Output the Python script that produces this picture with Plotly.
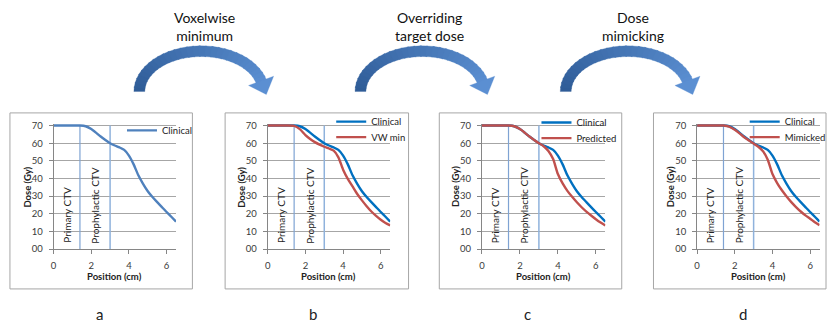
import numpy as np
import plotly.graph_objects as go

W, H = 831, 327
FONT = "Lato"

# ---------------- data ----------------
position_cm = [0, 0.5, 1.0, 1.4, 1.7, 2.0, 2.25, 2.5, 2.75, 3.0, 3.25, 3.5, 3.75,
               4.0, 4.25, 4.5, 4.75, 5.0, 5.25, 5.5, 5.75, 6.0, 6.25, 6.5]
clinical_dose = [70, 70, 70, 70, 69.6, 68, 66, 63.8, 61.8, 60, 58.7, 57.6, 56.2,
                 53, 48, 41.8, 37, 32.8, 29.5, 26.6, 23.8, 21, 18.3, 15.6]
vw_min_dose = [70, 70, 70, 69.8, 68, 64.6, 62.4, 60.6, 59.2, 58, 57, 55.8, 52,
               45, 39.8, 35.5, 31.2, 27.6, 24.3, 21.3, 18.8, 16.6, 14.8, 13.4]
predicted_dose = [70, 70, 70, 70, 69.6, 68, 66, 63.8, 61.8, 60, 58.3, 55.6, 51,
                  42.5, 37.2, 33, 29.6, 26.5, 23.7, 21.2, 19, 16.9, 15, 13.4]
mimicked_dose = [70, 70, 70, 70, 69.4, 67.6, 65.6, 63.4, 61.5, 59.8, 58, 55.4, 50.6,
                 42.5, 37.4, 33.3, 29.8, 26.6, 23.8, 21.3, 19.1, 17.2, 15.2, 13.5]

ctv_bounds = [1.4, 3.0]
ctv_labels = ["Primary CTV", "Prophylactic CTV"]
y_tick_vals = [0, 10, 20, 30, 40, 50, 60, 70]
y_tick_text = ["00", "10", "20", "30", "40", "50", "60", "70"]
x_tick_vals = [0, 2, 4, 6]
panel_letters = ["a", "b", "c", "d"]
step_titles = ["Voxelwise<br>minimum", "Overriding<br>target dose", "Dose<br>mimicking"]

# ---------------- helpers ----------------
def px(x):
    return x / W

def py(y):
    return 1 - y / H

fig = go.Figure()

# panel layout (pixels): x of 0, pixels per unit, frame left/right, legend-cover left
panels = [
    dict(x0=51, ppu=19.0, fl=7, fr=191, cov=133),
    dict(x0=267, ppu=19.0, fl=224, fr=409, cov=348),
    dict(x0=483, ppu=19.15, fl=440, fr=624, cov=548),
    dict(x0=700, ppu=19.0, fl=656, fr=830, cov=766),
]
series = [
    [("Clinical", clinical_dose, "#4f81bd")],
    [("Clinical", clinical_dose, "#0070c0"), ("VW min", vw_min_dose, "#c0504d")],
    [("Clinical", clinical_dose, "#0070c0"), ("Predicted", predicted_dose, "#c0504d")],
    [("Clinical", clinical_dose, "#0070c0"), ("Mimicked", mimicked_dose, "#c0504d")],
]
# legend entries: (text start x, row centre y) in pixels
legend_rows = [
    [(160, 130)],
    [(371, 121), (371, 137)],
    [(578, 122), (578, 138)],
    [(788, 121), (788, 137)],
]

Y0_PX = 252.0
PPY = (252.0 - 125.0) / 70.0
YMAX = 71
ydom = [py(Y0_PX), py(Y0_PX - YMAX * PPY)]

shapes = []
annotations = []
layout_extra = {}
leg_idx = 0

for i, p in enumerate(panels):
    n = i + 1
    xa = "x" if n == 1 else f"x{n}"
    ya = "y" if n == 1 else f"y{n}"
    xkey = "xaxis" if n == 1 else f"xaxis{n}"
    ykey = "yaxis" if n == 1 else f"yaxis{n}"
    xend = p["x0"] + 6.5 * p["ppu"]
    layout_extra[xkey] = dict(
        domain=[px(p["x0"]), px(xend)], range=[0, 6.5], anchor=ya,
        tickvals=x_tick_vals, ticks="outside", ticklen=4, tickcolor="#868686",
        ticklabelstandoff=4,
        showline=True, linecolor="#868686", linewidth=1, showgrid=False, zeroline=False,
        tickfont=dict(family=FONT, size=9.5, color="#3a3a3a"), fixedrange=True,
    )
    layout_extra[ykey] = dict(
        domain=ydom, range=[0, YMAX], anchor=xa,
        tickvals=y_tick_vals, ticktext=y_tick_text, ticks="outside", ticklen=4,
        ticklabelstandoff=4,
        tickcolor="#868686", showline=True, linecolor="#868686", linewidth=1,
        showgrid=True, gridcolor="#a6a6a6", gridwidth=1, zeroline=False,
        tickfont=dict(family=FONT, size=9.5, color="#3a3a3a"), fixedrange=True,
    )
    for (name, vals, col), (lx, ly) in zip(series[i], legend_rows[i]):
        leg_idx += 1
        lkey = "legend" if leg_idx == 1 else f"legend{leg_idx}"
        layout_extra[lkey] = dict(
            x=px(lx - 40), y=py(ly - 15), xanchor="left", yanchor="top",
            bgcolor="rgba(0,0,0,0)", borderwidth=0, itemwidth=30,
            font=dict(family=FONT, size=9.5, color="#222"),
        )
        fig.add_trace(go.Scatter(
            x=position_cm, y=vals, mode="lines", name=name,
            line=dict(color=col, width=2.4, shape="spline", smoothing=0.6),
            xaxis=xa, yaxis=ya, legend=lkey, showlegend=True,
        ))
    # white area behind the legend (hides gridlines, stays below the curves)
    shapes.append(dict(type="rect", xref="paper", yref="paper",
                       x0=px(p["cov"]), x1=px(xend + 1), y0=py(149), y1=py(113),
                       line=dict(width=0), fillcolor="white", layer="between"))
    # CTV boundary lines
    for b, col, w in zip(ctv_bounds, ["#7fa3d3", "#8fb2dc"], [1.2, 1.5]):
        shapes.append(dict(type="line", xref=xa, yref=ya, x0=b, x1=b, y0=0, y1=70,
                           line=dict(color=col, width=w), layer="between"))
    # CTV labels
    for lab, lxv, lyv in zip(ctv_labels, [0.7, 2.2], [19.3, 24.6]):
        annotations.append(dict(text=lab, xref=xa, yref=ya, x=lxv, y=lyv,
                                xanchor="center", yanchor="middle",
                                textangle=-90, showarrow=False,
                                font=dict(family=FONT, size=10, color="#222")))
    # axis titles
    annotations.append(dict(text="<b>Dose (Gy)</b>", xref="paper", yref="paper",
                            x=px(p["x0"] - 26), y=py(188), xanchor="center", yanchor="middle",
                            textangle=-90, showarrow=False,
                            font=dict(family=FONT, size=9.5, color="#222")))
    annotations.append(dict(text="<b>Position (cm)</b>", xref="paper", yref="paper",
                            x=px((p["x0"] + xend) / 2), y=py(280),
                            xanchor="center", yanchor="middle", showarrow=False,
                            font=dict(family=FONT, size=9.5, color="#222")))
    annotations.append(dict(text=panel_letters[i], xref="paper", yref="paper",
                            x=px(p["x0"] + 46), y=py(319), xanchor="center", yanchor="middle",
                            showarrow=False,
                            font=dict(family=FONT, size=15, color="#222")))
    # frame
    shapes.append(dict(type="rect", xref="paper", yref="paper",
                       x0=px(p["fl"]), x1=px(p["fr"]), y0=py(293), y1=py(112),
                       line=dict(color="#a6a6a6", width=1), fillcolor="rgba(0,0,0,0)",
                       layer="below"))

# ---------------- curved arrows ----------------
def hexmix(c1, c2, t):
    a = [int(c1[k:k + 2], 16) for k in (1, 3, 5)]
    b = [int(c2[k:k + 2], 16) for k in (1, 3, 5)]
    m = [round(a[k] + (b[k] - a[k]) * t) for k in range(3)]
    return "#%02x%02x%02x" % tuple(m)

def path_from(pts):
    return "M " + " L ".join(f"{px(x):.5f},{py(y):.5f}" for x, y in pts) + " Z"

arrow_centres = [200, 423, 630]
title_centres = [203, 430, 635]
RXO, RYO, RXI, RYI, CY = 68, 47, 57, 36, 90
TH_END = np.radians(14)
C_START, C_END = "#2f5c97", "#5b8fd2"
NSEG = 30
for ac, tc, title in zip(arrow_centres, title_centres, step_titles):
    ths = np.linspace(np.pi, TH_END, NSEG + 1)
    for k in range(NSEG):
        a0, a1 = ths[k], ths[k + 1]
        a0e = a0 + (0.012 if k > 0 else 0)
        a1e = a1 - 0.012
        pts = [
            (ac + RXO * np.cos(a0e), CY - RYO * np.sin(a0e)),
            (ac + RXO * np.cos(a1e), CY - RYO * np.sin(a1e)),
            (ac + RXI * np.cos(a1e), CY - RYI * np.sin(a1e)),
            (ac + RXI * np.cos(a0e), CY - RYI * np.sin(a0e)),
        ]
        col = hexmix(C_START, C_END, k / NSEG)
        shapes.append(dict(type="path", xref="paper", yref="paper", path=path_from(pts),
                           fillcolor=col, line=dict(color=col, width=0.3), layer="above"))
    rxm, rym = (RXO + RXI) / 2, (RYO + RYI) / 2
    mx, my = ac + rxm * np.cos(TH_END), CY - rym * np.sin(TH_END)
    t = np.array([rxm * np.sin(TH_END), rym * np.cos(TH_END)])
    t = t / np.linalg.norm(t)
    nrm = np.array([rym * np.cos(TH_END), -rxm * np.sin(TH_END)])
    nrm = nrm / np.linalg.norm(nrm)
    hw, hl = 13.5, 14
    head = [(mx + hw * nrm[0] - 1.0 * t[0], my + hw * nrm[1] - 1.0 * t[1]),
            (mx + hl * t[0], my + hl * t[1]),
            (mx - hw * nrm[0] - 1.0 * t[0], my - hw * nrm[1] - 1.0 * t[1])]
    shapes.append(dict(type="path", xref="paper", yref="paper", path=path_from(head),
                       fillcolor=C_END, line=dict(color=C_END, width=0.3), layer="above"))
    annotations.append(dict(text=title, xref="paper", yref="paper", x=px(tc), y=py(23),
                            xanchor="center", yanchor="middle",
                            showarrow=False, align="center",
                            font=dict(family=FONT, size=14, color="#111")))

fig.update_layout(
    width=W, height=H, margin=dict(l=0, r=0, t=0, b=0),
    paper_bgcolor="white", plot_bgcolor="white",
    shapes=shapes, annotations=annotations,
    **layout_extra,
)

fig.write_html("out.html", config={"displayModeBar": False},
               post_script="document.body.style.margin='0px';")
